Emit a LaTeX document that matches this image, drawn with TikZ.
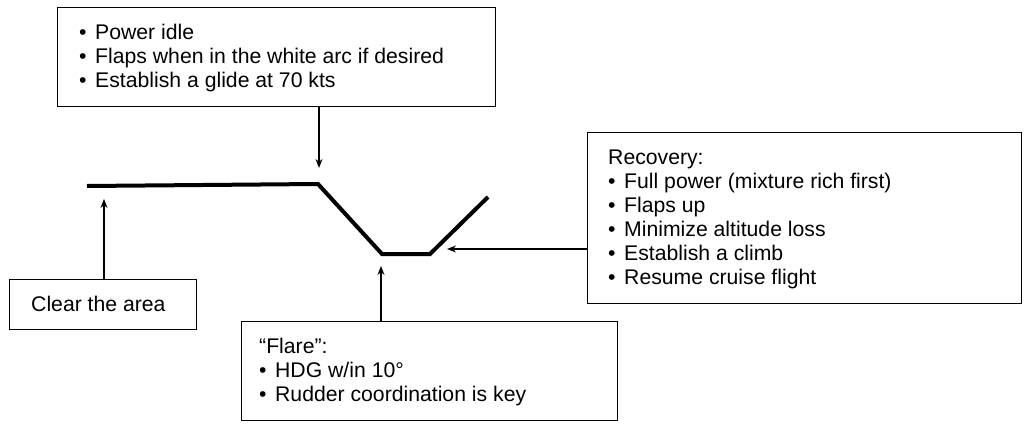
\documentclass[tikz,border=0pt]{standalone}
\usepackage{fontspec}
\setmainfont{Liberation Sans}
\usetikzlibrary{arrows.meta}
\newcommand\bitem{\makebox[16pt][l]{\textbullet}}
\begin{document}
\begin{tikzpicture}[x=1pt,y=-1pt,
  box/.style={draw, line width=1.4pt, inner sep=0pt, anchor=north west},
  txt/.style={anchor=north west, inner sep=0pt, align=left, font=\fontsize{21.2}{24}\selectfont},
  arr/.style={-{Stealth[length=9pt,width=7pt]}, line width=1.3pt},
  flight/.style={line width=4pt}]
\useasboundingbox (0,0) rectangle (1027,423);
% boxes
\node[box, minimum width=438pt, minimum height=99pt] (top) at (57,7) {};
\node[box, minimum width=187pt, minimum height=50pt] (clear) at (9,279) {};
\node[box, minimum width=376pt, minimum height=99pt] (flare) at (241,321) {};
\node[box, minimum width=434pt, minimum height=171pt] (rec) at (587,132) {};
% texts
\node[txt] (toptxt) at (79,22.2) {\strut\bitem Power idle\\ \bitem Flaps when in the white arc if desired\\ \bitem Establish a glide at 70 kts};
\node[txt] (cleartxt) at (31,294.2) {\strut Clear the area};
\node[txt] (flaretxt) at (259,336.2) {\strut “Flare”:\\ \bitem HDG w/in 10°\\ \bitem Rudder coordination is key};
\node[txt] (rectxt) at (608,147.2) {\strut Recovery:\\ \bitem Full power (mixture rich first)\\ \bitem Flaps up\\ \bitem Minimize altitude loss\\ \bitem Establish a climb\\ \bitem Resume cruise flight};
% flight path
\coordinate (p0) at (87,186);
\coordinate (p1) at (318,184);
\coordinate (p2) at (382,254);
\coordinate (p3) at (430,254);
\coordinate (p4) at (488,197);
\draw[flight] (p0) -- (p1) -- (p2) -- (p3) -- (p4);
% arrows
\coordinate (a1) at (319,168);
\coordinate (a2) at (104,199);
\coordinate (a3) at (381,266);
\coordinate (a4) at (447,249);
\draw[arr] (top.south -| a1) -- (a1);
\draw[arr] (clear.north -| a2) -- (a2);
\draw[arr] (flare.north -| a3) -- (a3);
\draw[arr] (rec.west |- a4) -- (a4);
\end{tikzpicture}
\end{document}
